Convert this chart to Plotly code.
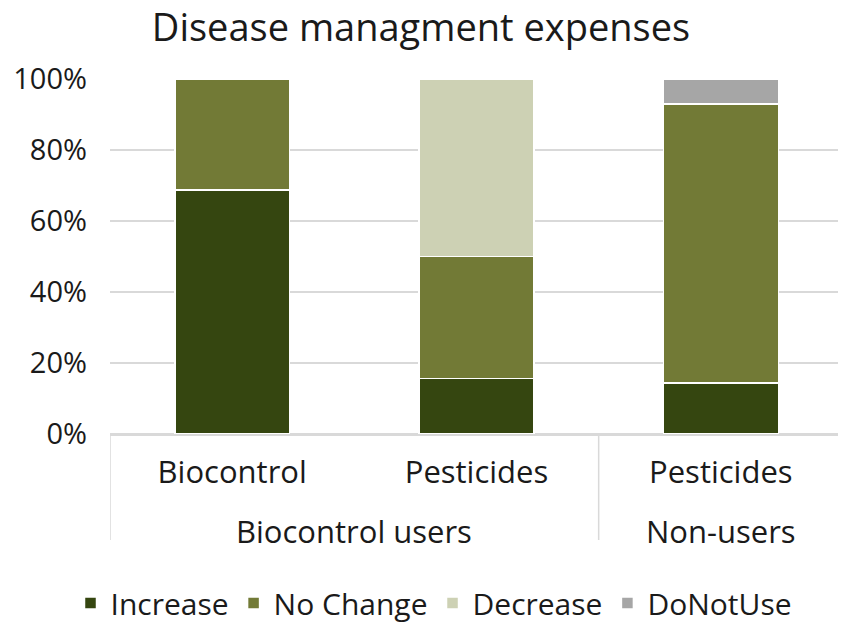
import plotly.graph_objects as go

groups = ["Biocontrol users", "Biocontrol users", "Non-users"]
products = ["Biocontrol", "Pesticides", "Pesticides"]

increase = [0.6875, 0.156, 0.143]
no_change = [0.3125, 0.344, 0.786]
decrease = [0.0, 0.50, 0.0]
do_not_use = [0.0, 0.0, 0.071]

series = [
    ("Increase", increase, "#354610"),
    ("No Change", no_change, "#727a36"),
    ("Decrease", decrease, "#cdd1b4"),
    ("DoNotUse", do_not_use, "#a6a6a6"),
]

# page body has an 8px margin; the figure is sized to fit the 846x626 window
W, H = 838, 618
plot_top, plot_h = 71, 355
font_family = "'Open Sans', Lato, sans-serif"
text_color = "#1a1a1a"
line_color = "#d9d9d9"

positions = list(range(len(products)))

fig = go.Figure()
for name, vals, color in series:
    fig.add_trace(go.Bar(
        name=name,
        x=positions,
        y=vals,
        marker=dict(color=color, line=dict(color="white", width=1.5)),
    ))

# group labels and dividers derived from the group list
group_spans = []
for i, g in enumerate(groups):
    if group_spans and group_spans[-1][0] == g:
        group_spans[-1][2] = i
    else:
        group_spans.append([g, i, i])

div_bottom = -(540 - 434) / plot_h
boundaries = sorted({s - 0.5 for _, s, _ in group_spans} | {e + 0.5 for _, _, e in group_spans})
for b in boundaries:
    fig.add_shape(type="line", xref="x", yref="paper", x0=b, x1=b, y0=0, y1=div_bottom,
                  line=dict(color=line_color, width=1.5))
for g, s, e in group_spans:
    fig.add_annotation(text=g, xref="x", yref="paper", x=(s + e) / 2,
                       y=-(531 - 434) / plot_h, yanchor="middle", xanchor="center",
                       showarrow=False, font=dict(size=31, color=text_color))

fig.update_layout(
    barmode="stack",
    bargap=0.53,
    width=W, height=H,
    margin=dict(l=102, r=3, t=plot_top, b=H - plot_top - plot_h, autoexpand=False),
    plot_bgcolor="white", paper_bgcolor="white",
    font=dict(family=font_family, size=29, color=text_color),
    title=dict(text="Disease managment expenses", x=413 / W, xref="container",
               y=1 - 20 / H, yref="container", yanchor="middle", xanchor="center",
               font=dict(size=38, color=text_color)),
    legend=dict(orientation="h", xref="container", yref="container",
                x=426 / W, xanchor="center", y=(H - 595) / H, yanchor="middle",
                font=dict(size=30), traceorder="normal", itemwidth=30),
    yaxis=dict(range=[0, 1], tickformat=".0%", dtick=0.2, showgrid=True,
               gridcolor=line_color, gridwidth=1.5, zeroline=True,
               zerolinecolor=line_color, zerolinewidth=1.5,
               ticklabelstandoff=22, showline=False),
    xaxis=dict(range=[-0.5, len(products) - 0.5], tickvals=positions, ticktext=products,
               showline=True, linecolor=line_color, linewidth=1.5, showgrid=False,
               zeroline=False, ticks="", ticklabelstandoff=10,
               tickfont=dict(size=31)),
)

fig.write_html("out.html")
